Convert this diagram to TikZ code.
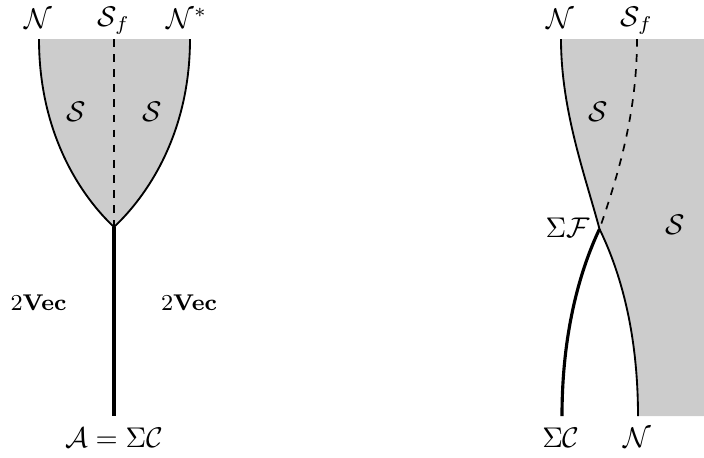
\documentclass[tikz,border=0pt]{standalone}
\usepackage{amsmath,amssymb}
\begin{document}
\begin{tikzpicture}[x=0.351pt,y=-0.351pt,
  wall/.style={line width=0.65pt},
  thickwall/.style={line width=1.1pt},
  defect/.style={line width=0.6pt,dash pattern=on 2.7pt off 2.6pt},
  shade/.style={fill=black!20,draw=none},
  lab/.style={inner sep=0pt,anchor=base}]
\useasboundingbox (0,0) rectangle (704,457);
% ---------- left diagram ----------
\coordinate (LTL) at (39,39);
\coordinate (LTR) at (190,39);
\coordinate (LTM) at (114,39);
\coordinate (J) at (114,227);
\coordinate (LB) at (114,416);
\fill[shade] (LTL) -- (LTR) .. controls (190,135) and (146,197) .. (J)
  .. controls (82,197) and (39,135) .. (LTL) -- cycle;
\draw[wall] (LTL) .. controls (39,135) and (82,197) .. (J);
\draw[wall] (LTR) .. controls (190,135) and (146,197) .. (J);
\draw[defect] (LTM) -- (J);
\draw[thickwall] (J) -- (LB);
\node[lab] (n1) at (38,28) {$\mathcal{N}$};
\node[lab] (sf1) at (114,26) {$\mathcal{S}_f$};
\node[lab] (ns1) at (187,28) {$\mathcal{N}^*$};
\node[lab] (s1) at (76,121) {$\mathcal{S}$};
\node[lab] (s2) at (152,121) {$\mathcal{S}$};
\node[lab] (v1) at (38.5,310) {\footnotesize $2\mathbf{Vec}$};
\node[lab] (v2) at (189,310) {\footnotesize $2\mathbf{Vec}$};
\node[lab] (a1) at (114,447) {$\mathcal{A}=\Sigma\mathcal{C}$};
% ---------- right diagram ----------
\coordinate (RTL) at (561,39);
\coordinate (RTM) at (637,39);
\coordinate (X) at (599.5,229);
\coordinate (RBL) at (562,416);
\coordinate (RBR) at (638,416);
\fill[shade] (RTL) -- (704,39) -- (704,416) -- (RBR)
  .. controls (638,325) and (617,265) .. (X)
  .. controls (585,175) and (561,110) .. (RTL) -- cycle;
\draw[wall] (RTL) .. controls (561,110) and (585,175) .. (X)
  .. controls (617,265) and (638,325) .. (RBR);
\draw[defect] (RTM) .. controls (637,110) and (620,170) .. (X);
\draw[thickwall] (X) .. controls (581,268) and (562,330) .. (RBL);
\node[lab] (n2) at (560,28) {$\mathcal{N}$};
\node[lab] (sf2) at (637,26) {$\mathcal{S}_f$};
\node[lab] (s3) at (598,121) {$\mathcal{S}$};
\node[lab] (s4) at (675,234) {$\mathcal{S}$};
\node[lab,anchor=base east] (sF) at (590,237) {$\Sigma\mathcal{F}$};
\node[lab] (sc2) at (561,447) {$\Sigma\mathcal{C}$};
\node[lab] (n3) at (637,447) {$\mathcal{N}$};
\end{tikzpicture}
\end{document}
